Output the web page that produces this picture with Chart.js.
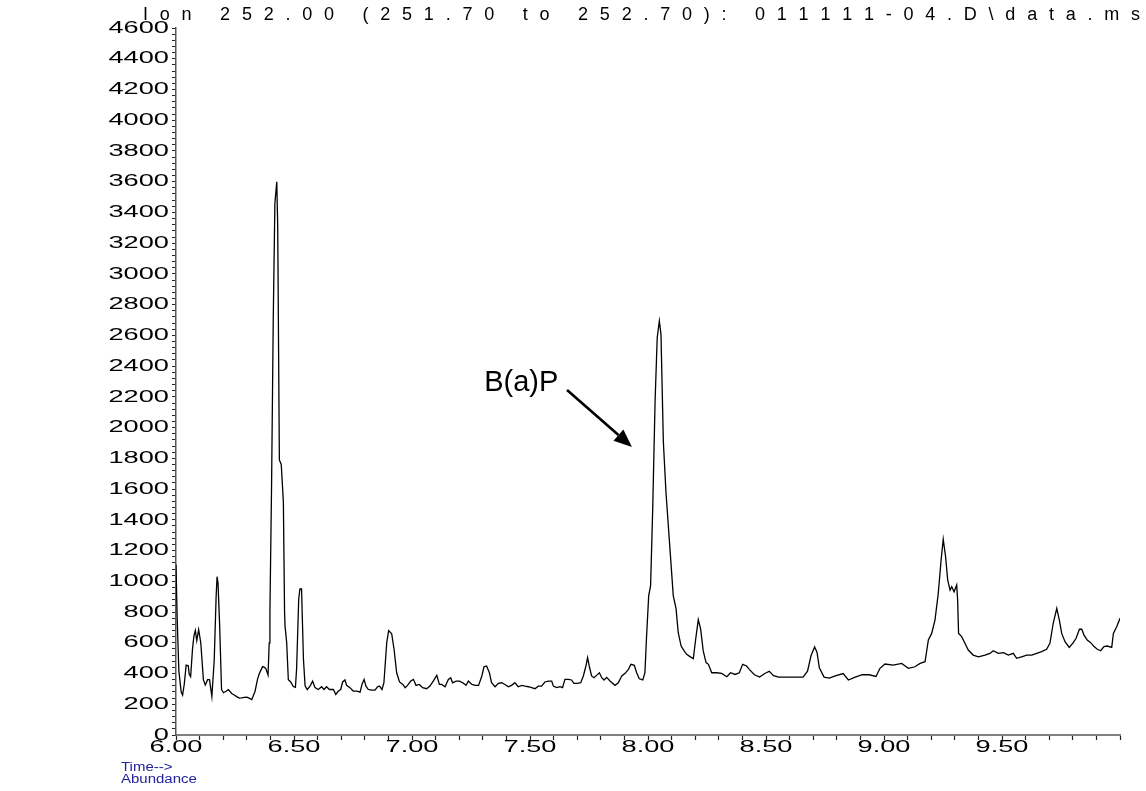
<!DOCTYPE html>
<html>
<head>
<meta charset="utf-8">
<title>Ion 252.00 - data.ms</title>
<script src="https://cdn.jsdelivr.net/npm/chart.js@4/dist/chart.umd.min.js"></script>
<style>
  html, body { margin: 0; padding: 0; background: #fff; }
  #wrap { position: relative; width: 1146px; height: 791px; }
</style>
</head>
<body>
<div id="wrap"><canvas id="tic"></canvas></div>
<script>
const titleText = "Ion 252.00 (251.70 to 252.70): 011111-04.D\\data.ms";
const peakName = "B(a)P";

// retention time (min) and abundance of the extracted ion trace
const times = [
    6.000, 6.005, 6.012, 6.022, 6.028, 6.035, 6.043, 6.052, 6.056, 6.062,
    6.070, 6.076, 6.082, 6.088, 6.096, 6.105, 6.116, 6.124, 6.134, 6.142,
    6.152, 6.162, 6.170, 6.174, 6.178, 6.185, 6.193, 6.201, 6.212, 6.222,
    6.236, 6.247, 6.257, 6.268, 6.278, 6.290, 6.300, 6.312, 6.321, 6.335,
    6.345, 6.353, 6.367, 6.375, 6.381, 6.390, 6.395, 6.398, 6.405, 6.412,
    6.419, 6.427, 6.431, 6.438, 6.446, 6.455, 6.460, 6.462, 6.469, 6.476,
    6.486, 6.497, 6.506, 6.511, 6.520, 6.525, 6.532, 6.540, 6.547, 6.556,
    6.568, 6.579, 6.589, 6.603, 6.617, 6.627, 6.638, 6.650, 6.667, 6.677,
    6.688, 6.698, 6.706, 6.716, 6.723, 6.737, 6.751, 6.766, 6.780, 6.788,
    6.797, 6.805, 6.815, 6.829, 6.843, 6.854, 6.862, 6.873, 6.881, 6.893,
    6.901, 6.914, 6.924, 6.935, 6.947, 6.961, 6.971, 6.981, 6.995, 7.006,
    7.017, 7.031, 7.045, 7.062, 7.076, 7.090, 7.105, 7.116, 7.126, 7.140,
    7.154, 7.164, 7.172, 7.187, 7.201, 7.215, 7.229, 7.239, 7.254, 7.268,
    7.282, 7.296, 7.305, 7.316, 7.328, 7.337, 7.352, 7.366, 7.380, 7.394,
    7.408, 7.422, 7.436, 7.450, 7.465, 7.479, 7.493, 7.507, 7.521, 7.535,
    7.549, 7.563, 7.578, 7.592, 7.599, 7.613, 7.627, 7.638, 7.648, 7.662,
    7.676, 7.686, 7.700, 7.715, 7.726, 7.737, 7.744, 7.751, 7.761, 7.771,
    7.782, 7.794, 7.804, 7.814, 7.825, 7.839, 7.860, 7.874, 7.889, 7.903,
    7.917, 7.928, 7.942, 7.952, 7.963, 7.978, 7.987, 7.994, 8.003, 8.011,
    8.020, 8.030, 8.039, 8.048, 8.055, 8.065, 8.076, 8.086, 8.097, 8.107,
    8.119, 8.128, 8.140, 8.153, 8.164, 8.178, 8.192, 8.202, 8.213, 8.223,
    8.234, 8.246, 8.256, 8.270, 8.291, 8.312, 8.334, 8.350, 8.369, 8.387,
    8.401, 8.418, 8.429, 8.451, 8.473, 8.495, 8.514, 8.532, 8.554, 8.584,
    8.613, 8.657, 8.676, 8.691, 8.706, 8.716, 8.726, 8.746, 8.768, 8.797,
    8.827, 8.849, 8.878, 8.908, 8.937, 8.966, 8.983, 9.004, 9.039, 9.075,
    9.103, 9.131, 9.153, 9.174, 9.188, 9.202, 9.216, 9.230, 9.242, 9.251,
    9.261, 9.270, 9.280, 9.287, 9.297, 9.308, 9.312, 9.316, 9.329, 9.343,
    9.357, 9.378, 9.400, 9.428, 9.449, 9.463, 9.484, 9.506, 9.527, 9.548,
    9.562, 9.583, 9.605, 9.626, 9.647, 9.668, 9.689, 9.703, 9.717, 9.732,
    9.743, 9.753, 9.767, 9.785, 9.802, 9.814, 9.828, 9.838, 9.847, 9.861,
    9.876, 9.890, 9.904, 9.918, 9.932, 9.946, 9.965, 9.972, 9.986, 10.000
];
const abundance = [
    1110,  760,  420,  280,  260,  330,  455,  450,  395,  380,
     560,  645,  680,  615,  685,  600,  360,  325,  360,  360,
     250,  490,  900, 1030,  990,  710,  295,  275,  285,  295,
     270,  260,  250,  240,  242,  245,  246,  238,  230,  285,
     360,  400,  445,  440,  430,  390,  600,  800, 1630, 2695,
    3460, 3600, 3305, 1790, 1760, 1515,  800,  710,  600,  360,
     345,  315,  310,  430,  885,  950,  950,  495,  320,  296,
     318,  350,  308,  296,  314,  296,  314,  296,  296,  264,
     286,  296,  345,  358,  323,  308,  286,  286,  279,  329,
     362,  318,  296,  292,  292,  314,  318,  296,  340,  602,
     679,  658,  558,  405,  345,  329,  308,  323,  351,  362,
     323,  329,  308,  301,  318,  351,  388,  329,  329,  314,
     362,  373,  340,  351,  351,  340,  323,  351,  329,  323,
     323,  384,  444,  449,  405,  340,  314,  336,  340,  329,
     314,  323,  340,  314,  323,  318,  314,  308,  301,  318,
     318,  345,  351,  351,  318,  308,  314,  308,  362,  362,
     358,  336,  336,  340,  384,  449,  504,  449,  384,  373,
     388,  405,  373,  358,  375,  351,  323,  340,  384,  401,
     427,  460,  453,  405,  366,  358,  405,  645,  907,  972,
    1474, 2171, 2585, 2694, 2607, 1910, 1583, 1365, 1125,  907,
     820,  667,  580,  547,  525,  510,  497,  623,  750,  690,
     547,  471,  460,  405,  405,  401,  379,  405,  394,  405,
     460,  449,  427,  392,  377,  400,  415,  386,  377,  377,
     377,  377,  415,  517,  573,  539,  438,  377,  370,  386,
     400,  358,  377,  392,  392,  381,  434,  462,  455,  466,
     434,  444,  466,  477,  618,  661,  748,  922, 1139, 1273,
    1160, 1008,  943,  965,  932,  976,  878,  661,  640,  597,
     553,  520,  509,  520,  531,  548,  531,  536,  520,  531,
     499,  509,  520,  520,  531,  542,  558,  597,  727,  824,
     748,  661,  607,  570,  601,  629,  688,  688,  651,  618,
     601,  575,  558,  548,  575,  579,  570,  661,  704,  759
];

// axis ranges and tick spacing
const timeMin = 6.0, timeMax = 10.0, timeMinorStep = 0.1, timeLabelStep = 0.5;
const abMin = 0, abMax = 4600, abMinorStep = 40, abLabelStep = 200;

// arrow pointing at the benzo(a)pyrene peak, in data units
const arrowFrom = { x: 7.657, y: 2245 };
const arrowTo = { x: 7.932, y: 1874 };
const peakLabelAt = { x: 7.620, y: 2240 };

const LABEL_STRETCH = 1.6;
const tickFont = { family: "'Liberation Sans', Arial, sans-serif", size: 17 };

function stepTicks(min, max, step) {
    const out = [];
    const n = Math.round((max - min) / step);
    for (let i = 0; i <= n; i++) out.push({ value: +(min + i * step).toFixed(4) });
    return out;
}

// the ChemStation print uses wide, horizontally stretched tick digits
const stretchTicks = {
    id: "stretchTicks",
    beforeDraw(chart) {
        const plain = CanvasRenderingContext2D.prototype.fillText;
        chart.ctx.fillText = function (text, x, y) {
            this.save();
            this.translate(x, y);
            this.scale(LABEL_STRETCH, 1);
            plain.call(this, text, 0, 0);
            this.restore();
        };
    },
    beforeDatasetsDraw(chart) {
        delete chart.ctx.fillText;
    }
};

function spacedText(ctx, text, left, right, y) {
    // spread the characters evenly between left and right
    const widths = [...text].map(ch => ctx.measureText(ch).width);
    const total = widths.reduce((a, b) => a + b, 0);
    const gap = (right - left - total) / (text.length - 1);
    let x = left;
    [...text].forEach((ch, i) => {
        ctx.fillText(ch, x, y);
        x += widths[i] + gap;
    });
}

function stretchedText(ctx, text, x, y, sx) {
    ctx.save();
    ctx.translate(x, y);
    ctx.scale(sx, 1);
    ctx.fillText(text, 0, 0);
    ctx.restore();
}

const notes = {
    id: "notes",
    afterDraw(chart) {
        const ctx = chart.ctx;
        const xs = chart.scales.x, ys = chart.scales.y;
        ctx.save();
        ctx.fillStyle = "#000";
        ctx.textAlign = "left";
        ctx.textBaseline = "alphabetic";

        ctx.font = "18px 'Liberation Sans', Arial, sans-serif";
        spacedText(ctx, titleText, 143, 1140, 20);

        // peak label and arrow
        ctx.font = "29px 'Liberation Sans', Arial, sans-serif";
        ctx.textAlign = "right";
        ctx.fillText(peakName, xs.getPixelForValue(peakLabelAt.x), ys.getPixelForValue(peakLabelAt.y));

        const x0 = xs.getPixelForValue(arrowFrom.x), y0 = ys.getPixelForValue(arrowFrom.y);
        const x1 = xs.getPixelForValue(arrowTo.x), y1 = ys.getPixelForValue(arrowTo.y);
        const ang = Math.atan2(y1 - y0, x1 - x0);
        const headLen = 18, headHalf = 7.5;
        const bx = x1 - headLen * Math.cos(ang), by = y1 - headLen * Math.sin(ang);
        ctx.strokeStyle = "#000";
        ctx.lineWidth = 2.6;
        ctx.beginPath();
        ctx.moveTo(x0, y0);
        ctx.lineTo(bx, by);
        ctx.stroke();
        ctx.beginPath();
        ctx.moveTo(x1, y1);
        ctx.lineTo(bx + headHalf * Math.sin(ang), by - headHalf * Math.cos(ang));
        ctx.lineTo(bx - headHalf * Math.sin(ang), by + headHalf * Math.cos(ang));
        ctx.closePath();
        ctx.fill();

        // axis captions in the bottom left corner
        ctx.textAlign = "left";
        ctx.fillStyle = "#23239b";
        ctx.font = "12px 'Liberation Sans', Arial, sans-serif";
        stretchedText(ctx, "Time-->", 121, 771, 1.25);
        stretchedText(ctx, "Abundance", 121, 783, 1.25);
        ctx.restore();
    }
};

new Chart(document.getElementById("tic"), {
    type: "line",
    data: {
        datasets: [{
            data: times.map((t, i) => ({ x: t, y: abundance[i] })),
            borderColor: "#000",
            borderWidth: 1.3,
            pointRadius: 0,
            tension: 0,
            fill: false
        }]
    },
    options: {
        responsive: true,
        maintainAspectRatio: false,
        animation: false,
        layout: { padding: { top: 28, right: 26, left: 0, bottom: 0 } },
        plugins: {
            legend: { display: false },
            tooltip: { enabled: false }
        },
        scales: {
            x: {
                type: "linear",
                min: timeMin,
                max: timeMax,
                afterBuildTicks: s => { s.ticks = stepTicks(timeMin, timeMax, timeMinorStep); },
                afterFit: s => { s.height = 56; },
                border: { color: "#808080", width: 2 },
                grid: { drawOnChartArea: false, tickLength: 5, tickColor: "#222", tickWidth: 1.2 },
                ticks: {
                    autoSkip: false,
                    maxRotation: 0,
                    padding: -3,
                    color: "#000",
                    font: tickFont,
                    callback: v => {
                        const k = v / timeLabelStep;
                        return Math.abs(k - Math.round(k)) < 1e-6 && v < timeMax - 1e-6 ? v.toFixed(2) : "";
                    }
                }
            },
            y: {
                min: abMin,
                max: abMax,
                afterBuildTicks: s => { s.ticks = stepTicks(abMin, abMax, abMinorStep); },
                afterFit: s => { s.width = 176; },
                border: { color: "#555", width: 1.5 },
                grid: { drawOnChartArea: false, tickLength: 4, tickColor: "#222", tickWidth: 1 },
                ticks: {
                    autoSkip: false,
                    padding: 3,
                    color: "#000",
                    font: tickFont,
                    callback: v => (v % abLabelStep === 0 ? String(v) : "")
                }
            }
        }
    },
    plugins: [stretchTicks, notes]
});
</script>
</body>
</html>
